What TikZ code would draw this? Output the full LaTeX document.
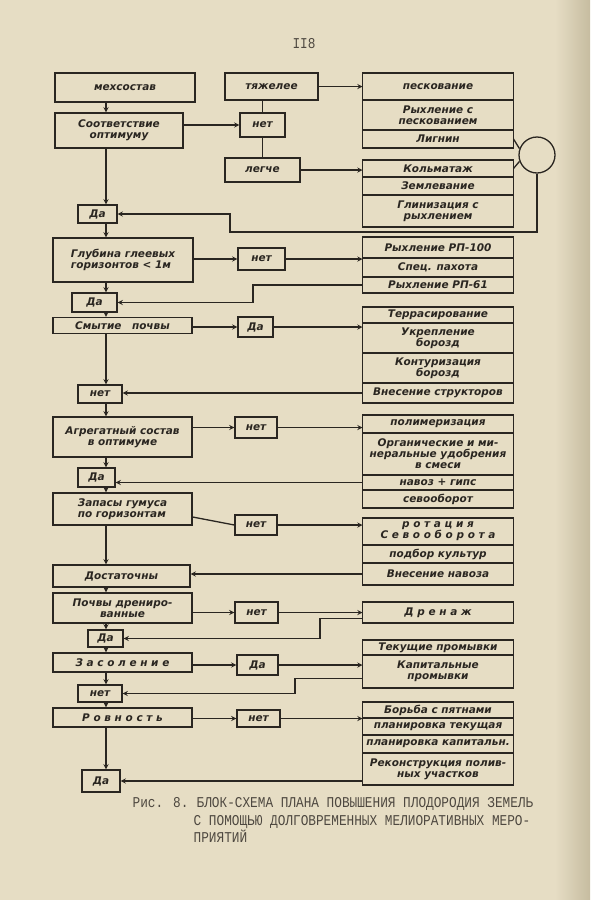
\documentclass[tikz,border=0pt]{standalone}
\usepackage{fontspec}
\setmainfont{DejaVu Sans}
\newfontfamily\stencilfont{DejaVu Sans}
\newfontfamily\typefont{Liberation Mono}[FakeStretch=0.85]
\usetikzlibrary{positioning}
\definecolor{paper}{RGB}{230,221,196}
\definecolor{paperedge}{RGB}{198,188,160}
\definecolor{ink}{RGB}{42,38,33}
\definecolor{typeink}{RGB}{78,72,64}
\begin{document}
\begin{tikzpicture}[x=1pt, y=-1pt, >=stealth, line width=1.3pt, color=ink,
  flowbox/.style={draw, align=center, inner sep=1pt, font=\stencilfont\bfseries\itshape\fontsize{10.5}{11}\selectfont},
  leftbox/.style={flowbox, minimum width=139},
  smallbox/.style={flowbox, minimum width=42, minimum height=20},
  rowbox/.style={flowbox, minimum width=151, outer sep=0pt},
  capt/.style={inner sep=0pt, align=left, text=typeink, font=\typefont\fontsize{15}{17.5}\selectfont}]
\fill[paper] (0,0) rectangle (590,900);
\shade[left color=paper, right color=paperedge] (555,0) rectangle (590,900);
\useasboundingbox (0,0) rectangle (590,900);
\node[capt] (pageno) at (304,44) {II8};
\node[flowbox, minimum width=140, minimum height=29] (mixture) at (125,87.5) {мехсостав};
\node[flowbox, minimum width=128, minimum height=35] (optimum) at (119,130.5) {Соответствие\\оптимуму};
\node[smallbox, minimum width=39, minimum height=18] (yes1) at (97.5,214) {Да};
\node[leftbox, minimum width=140, minimum height=44, align=left] (depth) at (123,260) {Глубина глеевых\\горизонтов < 1м};
\node[smallbox, minimum width=45, minimum height=19] (yes2) at (94.5,302.5) {Да};
\node[leftbox, minimum height=16] (erosion) at (122.5,325.5) {Смытие\quad почвы};
\node[smallbox, minimum width=44, minimum height=18] (no2) at (100,394) {нет};
\node[leftbox, minimum height=40] (aggreg) at (122.5,437) {Агрегатный состав\\в оптимуме};
\node[smallbox, minimum width=37, minimum height=19] (yes3) at (96.5,477.5) {Да};
\node[leftbox, minimum height=32, align=left] (humus) at (122.5,509) {Запасы гумуса\\по горизонтам};
\node[leftbox, minimum width=137, minimum height=22] (enough) at (121.5,576) {Достаточны};
\node[leftbox, minimum height=30] (drained) at (122.5,608) {Почвы дрениро-\\ванные};
\node[smallbox, minimum width=35, minimum height=17] (yes4) at (105.5,638.5) {Да};
\node[leftbox, minimum height=19] (salin) at (122.5,662.5) {З а с о л е н и е};
\node[smallbox, minimum width=44, minimum height=17] (no4) at (100,693.5) {нет};
\node[leftbox, minimum height=19] (evenness) at (122.5,717.5) {Р о в н о с т ь};
\node[smallbox, minimum width=38, minimum height=22] (yes5) at (101,781) {Да};
\node[flowbox, minimum width=93, minimum height=27] (heavier) at (271.5,86.5) {тяжелее};
\node[smallbox, minimum width=45, minimum height=24] (no1) at (262.5,125) {нет};
\node[flowbox, minimum width=75, minimum height=24] (lighter) at (262.5,170) {легче};
\node[smallbox, minimum width=47, minimum height=22] (nodepth) at (261.5,259) {нет};
\node[smallbox, minimum width=35] (yeser) at (255.5,327) {Да};
\node[smallbox, minimum height=21] (noagg) at (256,427.5) {нет};
\node[smallbox] (nohum) at (256,525) {нет};
\node[smallbox, minimum width=43, minimum height=21] (nodrain) at (256.5,612.5) {нет};
\node[smallbox, minimum width=41] (yessal) at (257.5,665) {Да};
\node[smallbox, minimum width=43, minimum height=17] (noeven) at (258.5,718.5) {нет};
\node[rowbox, minimum height=27, anchor=north] (sanding) at (438,73) {пескование};
\node[rowbox, minimum height=30, below=0pt of sanding] (loosesand) {Рыхление с\\пескованием};
\node[rowbox, minimum height=18, below=0pt of loosesand] (lignin) {Лигнин};
\node[rowbox, minimum height=17, anchor=north] (colmat) at (438,160) {Кольматаж};
\node[rowbox, minimum height=18, below=0pt of colmat] (earthing) {Землевание};
\node[rowbox, minimum height=32, below=0pt of earthing] (claying) {Глинизация с\\рыхлением};
\node[rowbox, minimum height=21, anchor=north] (rip100) at (438,237) {Рыхление РП-100};
\node[rowbox, minimum height=19, below=0pt of rip100] (plough) {Спец. пахота};
\node[rowbox, minimum height=16, below=0pt of plough] (rip61) {Рыхление РП-61};
\node[rowbox, minimum height=16, anchor=north] (terrace) at (438,307) {Террасирование};
\node[rowbox, minimum height=30, below=0pt of terrace] (furrowfix) {Укрепление\\борозд};
\node[rowbox, minimum height=30, below=0pt of furrowfix] (contour) {Контуризация\\борозд};
\node[rowbox, minimum height=20, below=0pt of contour] (structor) {Внесение структоров};
\node[rowbox, minimum height=18, anchor=north] (polymer) at (438,415) {полимеризация};
\node[rowbox, minimum height=42, below=0pt of polymer] (fertil) {Органические и ми-\\неральные удобрения\\в смеси};
\node[rowbox, minimum height=15, below=0pt of fertil] (gypsum) {навоз + гипс};
\node[rowbox, minimum height=18, below=0pt of gypsum] (rotation) {севооборот};
\node[rowbox, minimum height=27, anchor=north] (croprot) at (438,518) {р о т а ц и я\\С е в о о б о р о т а};
\node[rowbox, minimum height=18, below=0pt of croprot] (cropsel) {подбор культур};
\node[rowbox, minimum height=22, below=0pt of cropsel] (manure) {Внесение навоза};
\node[rowbox, minimum height=21, anchor=north] (drainage) at (438,602) {Д р е н а ж};
\node[rowbox, minimum height=15, anchor=north] (curwash) at (438,640) {Текущие промывки};
\node[rowbox, minimum height=33, below=0pt of curwash] (capwash) {Капитальные\\промывки};
\node[rowbox, minimum height=16, anchor=north] (spots) at (438,702) {Борьба с пятнами};
\node[rowbox, minimum height=17, below=0pt of spots] (curlevel) {планировка текущая};
\node[rowbox, minimum height=18, below=0pt of curlevel] (caplevel) {планировка капитальн.};
\node[rowbox, minimum height=32, below=0pt of caplevel] (rebuild) {Реконструкция полив-\\ных участков};
\node[draw, circle, minimum size=36] (merge) at (537,155) {};
\coordinate (spine) at (106,0);
\coordinate (loopa) at (230,232);
\coordinate (loopb) at (253,0);
\coordinate (loopc) at (320,0);
\coordinate (loopd) at (295,0);
\draw[->] (mixture.south -| spine) -- (optimum.north -| spine);
\draw[->] (optimum.south -| spine) -- (yes1.north -| spine);
\draw[->] (yes1.south -| spine) -- (depth.north -| spine);
\draw[->] (depth.south -| spine) -- (yes2.north -| spine);
\draw[->] (yes2.south -| spine) -- (erosion.north -| spine);
\draw[->] (erosion.south -| spine) -- (no2.north -| spine);
\draw[->] (no2.south -| spine) -- (aggreg.north -| spine);
\draw[->] (aggreg.south -| spine) -- (yes3.north -| spine);
\draw[->] (yes3.south -| spine) -- (humus.north -| spine);
\draw[->] (humus.south -| spine) -- (enough.north -| spine);
\draw[->] (enough.south -| spine) -- (drained.north -| spine);
\draw[->] (drained.south -| spine) -- (yes4.north -| spine);
\draw[->] (yes4.south -| spine) -- (salin.north -| spine);
\draw[->] (salin.south -| spine) -- (no4.north -| spine);
\draw[->] (no4.south -| spine) -- (evenness.north -| spine);
\draw[->] (evenness.south -| spine) -- (yes5.north -| spine);
\draw[->] (optimum.east |- no1.west) -- (no1.west);
\draw (no1.north) -- (no1.north |- heavier.south);
\draw (no1.south) -- (no1.south |- lighter.north);
\draw[->] (heavier.east) -- (heavier.east -| sanding.west);
\draw[->] (lighter.east) -- (lighter.east -| colmat.west);
\draw (lignin.east) -- (merge.160);
\draw (colmat.east) -- (merge.200);
\draw[->] (merge.south) |- (loopa) |- (yes1.east);
\draw[->] (depth.east |- nodepth.west) -- (nodepth.west);
\draw[->] (nodepth.east) -- (nodepth.east -| rip100.west);
\draw[->] (rip61.west) -| (loopb |- yes2.east) -- (yes2.east);
\draw[->] (erosion.east |- yeser.west) -- (yeser.west);
\draw[->] (yeser.east) -- (yeser.east -| terrace.west);
\draw[->] (structor.west) -- (structor.west -| no2.east);
\draw[->] (aggreg.east |- noagg.west) -- (noagg.west);
\draw[->] (noagg.east) -- (noagg.east -| polymer.west);
\draw[->] (gypsum.west) -- (gypsum.west -| yes3.east);
\draw ([yshift=-8pt]humus.east) -- (nohum.west);
\draw[->] (nohum.east) -- (nohum.east -| croprot.west);
\draw[->] (manure.west) -- (manure.west -| enough.east);
\draw[->] (drained.east |- nodrain.west) -- (nodrain.west);
\draw[->] (nodrain.east) -- (nodrain.east -| drainage.west);
\draw[->] ([yshift=-6pt]drainage.west) -| (loopc |- yes4.east) -- (yes4.east);
\draw[->] (salin.east |- yessal.west) -- (yessal.west);
\draw[->] (yessal.east) -- (yessal.east -| capwash.west);
\draw[->] ([yshift=-7pt]capwash.west) -| (loopd |- no4.east) -- (no4.east);
\draw[->] (evenness.east |- noeven.west) -- (noeven.west);
\draw[->] (noeven.east) -- (noeven.east -| spots.west);
\draw[->] (rebuild.west |- yes5.east) -- (yes5.east);
\node[capt, anchor=north west] (fignum) at (132,797) {Рис.\hspace{10pt}8.};
\node[capt, anchor=north west] (figtitle) at (193,797) {\hspace*{3pt}БЛОК-СХЕМА ПЛАНА ПОВЫШЕНИЯ ПЛОДОРОДИЯ ЗЕМЕЛЬ\\С ПОМОЩЬЮ ДОЛГОВРЕМЕННЫХ МЕЛИОРАТИВНЫХ МЕРО-\\ПРИЯТИЙ};
\end{tikzpicture}
\end{document}
